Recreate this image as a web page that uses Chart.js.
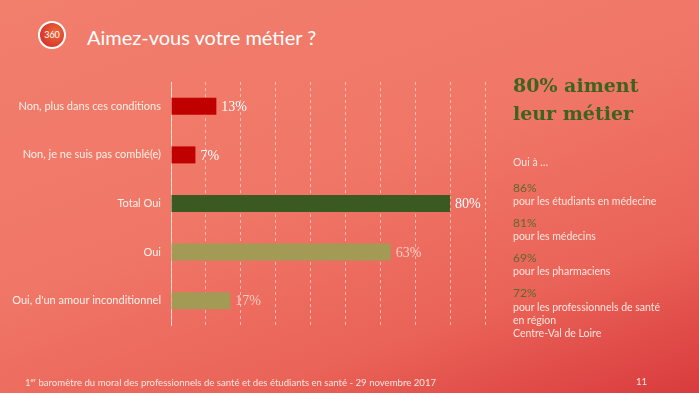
<!DOCTYPE html>
<html lang="fr">
<head>
<meta charset="utf-8">
<script src="https://cdn.jsdelivr.net/npm/chart.js@4.4.1/dist/chart.umd.min.js"></script>
<style>
  html, body { margin: 0; padding: 0; }
  body {
    width: 699px; height: 393px; overflow: hidden; position: relative;
    background: linear-gradient(160deg, #f27e6c 0%, #f07767 45%, #ea6358 75%, #d93b3d 100%);
    font-family: 'Lato', sans-serif; color: #fdf0ea;
  }
  #wrap { position: absolute; left: 0; top: 0; width: 699px; height: 393px; }
  .logo {
    position: absolute; left: 38px; top: 21px; width: 24px; height: 24px; border-radius: 50%;
    border: 2px solid #fff; background: radial-gradient(circle at 65% 40%, #ee6a3a 0%, #dc3f2c 60%, #c9242a 100%);
    color: #fff; font-size: 9px; line-height: 24px; text-align: center;
  }
  .title { position: absolute; left: 87px; top: 25px; font-size: 20px; color: #fff; }
  .side { position: absolute; left: 513px; }
  .big { font-family: 'DejaVu Serif', serif; font-weight: bold; font-size: 19px; color: #3c6320; line-height: 28px; }
  .small { font-size: 10.5px; color: #fbe6de; }
  .pct { font-size: 12px; color: #5b6a2b; font-family: 'Lato', sans-serif; }
  .footer { position: absolute; left: 25px; top: 376px; font-size: 9.6px; color: #fbe6de; }
  .footer sup { font-size: 6px; }
  .page { position: absolute; left: 636px; top: 376px; font-size: 9.6px; color: #fbe6de; }
</style>
</head>
<body>
<div class="logo">360</div>
<div class="title">Aimez-vous votre métier ?</div>

<div id="wrap"><canvas id="chart" width="699" height="393"></canvas></div>

<div class="side big" style="top:71px">80% aiment<br>leur métier</div>
<div class="side small" style="top:156px">Oui à …</div>
<div class="side pct" style="top:180px">86%</div>
<div class="side small" style="top:195px">pour les étudiants en médecine</div>
<div class="side pct" style="top:215px">81%</div>
<div class="side small" style="top:230px">pour les médecins</div>
<div class="side pct" style="top:250px">69%</div>
<div class="side small" style="top:265px">pour les pharmaciens</div>
<div class="side pct" style="top:285px">72%</div>
<div class="side small" style="top:301px; line-height:13px">pour les professionnels de santé<br>en région<br>Centre-Val de Loire</div>

<div class="footer">1<sup>er</sup> baromètre du moral des professionnels de santé et des étudiants en santé - 29 novembre 2017</div>
<div class="page">11</div>

<script>
const categories = [
  'Non, plus dans ces conditions',
  'Non, je ne suis pas comblé(e)',
  'Total Oui',
  'Oui',
  "Oui, d'un amour inconditionnel"
]
const values = [13, 7, 80, 63, 17]
const barColors = ['#c00000', '#c00000', '#3b5a22', '#a39a56', '#a39a56']
const labelColors = ['#ffffff', '#ffffff', '#ffffff', 'rgba(255,235,225,0.75)', 'rgba(255,235,225,0.75)']

const valueLabels = {
  id: 'valueLabels',
  afterDatasetsDraw (chart) {
    const ctx = chart.ctx
    const meta = chart.getDatasetMeta(0)
    ctx.save()
    ctx.font = '14px "Liberation Serif", serif'
    ctx.textBaseline = 'middle'
    meta.data.forEach((bar, i) => {
      ctx.fillStyle = labelColors[i]
      ctx.fillText(values[i] + '%', bar.x + 5, bar.y + 1)
    })
    ctx.restore()
  }
}

const ctx = document.getElementById('chart').getContext('2d')
new Chart(ctx, {
  type: 'bar',
  data: {
    labels: categories,
    datasets: [{
      data: values,
      backgroundColor: barColors,
      barPercentage: 0.7,
      categoryPercentage: 0.5
    }]
  },
  options: {
    indexAxis: 'y',
    responsive: false,
    animation: false,
    layout: { padding: { top: 82, bottom: 68, right: 214, left: 0 } },
    plugins: { legend: { display: false }, tooltip: { enabled: false } },
    scales: {
      x: {
        min: 0, max: 90,
        ticks: { display: false, stepSize: 10 },
        border: { display: false, dash: [3, 3] },
        grid: { color: 'rgba(255,235,225,0.6)', lineWidth: 1, drawTicks: false },
        afterFit (s) { s.height = 0 }
      },
      y: {
        ticks: { color: '#fdf0ea', font: { family: 'Lato', size: 11 }, padding: 10 },
        grid: { display: false, drawTicks: false },
        border: { color: 'rgba(255,235,225,0.75)', width: 1 },
        afterFit (s) { s.width = 171 }
      }
    }
  },
  plugins: [valueLabels]
})
</script>
</body>
</html>
